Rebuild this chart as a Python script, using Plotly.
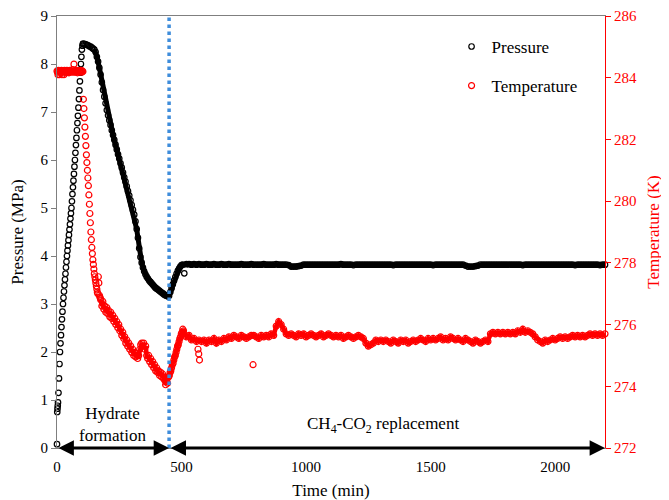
import plotly.graph_objects as go

# ---------------- data ----------------
# Pressure (MPa)
p_time_a = [0, 1, 2, 3] + list(range(4, 105, 2))
p_val_a = [0.08, 0.75, 0.82, 0.88,
           0.95, 1.15, 1.45, 1.75, 2.0, 2.18, 2.35, 2.52, 2.68, 2.84,
           3.0, 3.13, 3.26, 3.39, 3.51, 3.63, 3.76, 3.88, 4.0, 4.11,
           4.22, 4.33, 4.44, 4.55, 4.66, 4.78, 4.89, 5.0, 5.14, 5.29,
           5.43, 5.57, 5.71, 5.86, 6.0, 6.15, 6.31, 6.46, 6.62, 6.77,
           6.92, 7.09, 7.27, 7.45, 7.64, 7.82, 8.0, 8.15, 8.3, 8.38,
           8.42]
p_time_b = list(range(105, 506, 5))
p_val_b = [8.42, 8.42, 8.41, 8.40, 8.39, 8.37, 8.36, 8.34, 8.32, 8.30,
           8.25, 8.15, 8.05, 7.92, 7.78, 7.62, 7.46, 7.32, 7.18, 7.04,
           6.93, 6.83, 6.73, 6.62, 6.52, 6.42, 6.32, 6.22, 6.12, 6.03,
           5.93, 5.84, 5.74, 5.64, 5.55, 5.45, 5.35, 5.26, 5.16, 5.06,
           4.96, 4.86, 4.72, 4.56, 4.38, 4.16, 3.98, 3.86, 3.76, 3.68,
           3.62, 3.57, 3.53, 3.49, 3.46, 3.43, 3.40, 3.37, 3.34, 3.32,
           3.30, 3.28, 3.26, 3.24, 3.22, 3.20, 3.18, 3.17, 3.16, 3.17,
           3.25, 3.33, 3.41, 3.49, 3.56, 3.63, 3.69, 3.74, 3.78, 3.81,
           3.82]
p_time_c = list(range(520, 2201, 10))
p_val_c = [3.83, 3.83, 3.82, 3.83, 3.82, 3.83, 3.82, 3.82, 3.83, 3.82,
           3.82, 3.83, 3.82, 3.82, 3.83, 3.82, 3.82, 3.83, 3.82, 3.82,
           3.82, 3.82, 3.83, 3.82, 3.82, 3.82, 3.83, 3.82, 3.82, 3.82,
           3.82, 3.83, 3.82, 3.82, 3.82, 3.82, 3.83, 3.82, 3.82, 3.82,
           3.82, 3.81, 3.78, 3.78, 3.78, 3.79, 3.80, 3.82, 3.82, 3.82,
           3.82, 3.82, 3.82, 3.82, 3.82, 3.82, 3.82, 3.82, 3.82, 3.82,
           3.82, 3.82, 3.83, 3.82, 3.82, 3.82, 3.82, 3.81, 3.82, 3.82,
           3.82, 3.82, 3.82, 3.82, 3.82, 3.82, 3.82, 3.82, 3.82, 3.82,
           3.82, 3.82, 3.82, 3.81, 3.82, 3.82, 3.82, 3.82, 3.82, 3.82,
           3.82, 3.82, 3.82, 3.82, 3.82, 3.82, 3.82, 3.82, 3.82, 3.81,
           3.82, 3.82, 3.82, 3.82, 3.82, 3.82, 3.82, 3.82, 3.82, 3.82,
           3.82, 3.82, 3.80, 3.78, 3.78, 3.78, 3.79, 3.80, 3.82, 3.82,
           3.82, 3.82, 3.82, 3.82, 3.82, 3.82, 3.82, 3.82, 3.82, 3.82,
           3.82, 3.82, 3.82, 3.82, 3.82, 3.81, 3.82, 3.82, 3.82, 3.82,
           3.82, 3.82, 3.82, 3.82, 3.82, 3.82, 3.82, 3.82, 3.82, 3.82,
           3.82, 3.82, 3.82, 3.82, 3.82, 3.82, 3.81, 3.82, 3.82, 3.82,
           3.82, 3.82, 3.82, 3.82, 3.82, 3.82, 3.81, 3.82, 3.82]
p_out_time = [511]
p_out_val = [3.64]

# Temperature (K)
t_time_a = list(range(0, 105, 2))
t_val_a = [284.22, 284.18, 284.10, 284.24, 284.20, 284.10, 284.22, 284.20, 284.16, 284.24,
           284.10, 284.22, 284.20, 284.18, 284.10, 284.24, 284.20, 284.22, 284.16, 284.20,
           284.24, 284.18, 284.20, 284.22, 284.16, 284.20, 284.24, 284.20, 284.18, 284.22,
           284.20, 284.26, 284.20, 284.18, 284.44, 284.22, 284.20, 284.18, 284.24, 284.20,
           284.22, 284.16, 284.20, 284.24, 284.20, 284.18, 284.22, 284.20, 284.24, 284.20,
           284.18, 284.22, 284.20]
t_time_b = list(range(106, 175, 2))
t_val_b = [283.3, 283.0, 282.7, 282.4, 282.1, 281.8, 281.5, 281.25, 281.0, 280.75,
           280.5, 280.2, 279.9, 279.6, 279.3, 279.0, 278.75, 278.5, 278.3, 278.1,
           277.95, 277.8, 277.65, 277.55, 277.45, 277.35, 277.25, 277.15, 277.05, 277.0,
           277.55, 277.35, 276.95, 276.9, 276.85]
t_time_c = list(range(176, 449, 4))
t_val_c = [276.8, 276.6, 276.75, 276.5, 276.6, 276.4, 276.55, 276.35, 276.45, 276.25,
           276.4, 276.2, 276.3, 276.1, 276.2, 276.0, 276.1, 275.9, 276.0, 275.8,
           275.85, 275.65, 275.75, 275.55, 275.6, 275.4, 275.5, 275.3, 275.4, 275.2,
           275.3, 275.1, 275.2, 275.0, 275.1, 274.95, 275.05, 274.9, 275.0, 275.2,
           275.35, 275.4, 275.3, 275.4, 275.2, 275.3, 275.0, 274.9, 275.0, 274.8,
           274.9, 274.7, 274.8, 274.6, 274.7, 274.5, 274.6, 274.45, 274.5, 274.35,
           274.45, 274.3, 274.4, 274.25, 274.2, 274.05, 274.25, 274.1, 274.3]
t_time_d = list(range(451, 509, 3))
t_val_d = [274.35, 274.45, 274.5, 274.6, 274.7, 274.75, 274.85, 274.95, 275.0, 275.1,
           275.2, 275.3, 275.35, 275.45, 275.55, 275.6, 275.7, 275.75, 275.85, 275.8]
t_time_e = list(range(520, 2201, 10))
t_val_e = [275.6, 275.65, 275.5, 275.55, 275.45, 275.5, 275.45, 275.5, 275.4, 275.5,
           275.45, 275.55, 275.4, 275.5, 275.45, 275.55, 275.5, 275.6, 275.55, 275.65,
           275.6, 275.55, 275.65, 275.6, 275.55, 275.6, 275.65, 275.65, 275.6, 275.55,
           275.65, 275.6, 275.65, 275.6, 275.7, 275.65, 275.95, 276.1, 276.0, 275.85,
           275.7, 275.65, 275.7, 275.65, 275.6, 275.7, 275.65, 275.7, 275.6, 275.65,
           275.7, 275.65, 275.6, 275.65, 275.7, 275.6, 275.65, 275.7, 275.65, 275.6,
           275.65, 275.6, 275.65, 275.55, 275.6, 275.65, 275.6, 275.55, 275.6, 275.65,
           275.6, 275.55, 275.4, 275.3, 275.35, 275.4, 275.5, 275.45, 275.5, 275.45,
           275.5, 275.45, 275.4, 275.5, 275.45, 275.4, 275.5, 275.45, 275.5, 275.4,
           275.45, 275.5, 275.45, 275.5, 275.55, 275.5, 275.45, 275.55, 275.5, 275.55,
           275.5, 275.55, 275.6, 275.5, 275.55, 275.5, 275.6, 275.55, 275.5, 275.55,
           275.5, 275.45, 275.55, 275.5, 275.45, 275.4, 275.5, 275.45, 275.4, 275.45,
           275.5, 275.45, 275.7, 275.75, 275.7, 275.75, 275.7, 275.75, 275.7, 275.75,
           275.7, 275.75, 275.7, 275.8, 275.75, 275.85, 275.75, 275.8, 275.75, 275.7,
           275.6, 275.5, 275.45, 275.4, 275.5, 275.45, 275.5, 275.55, 275.5, 275.55,
           275.6, 275.55, 275.6, 275.55, 275.6, 275.65, 275.6, 275.65, 275.6, 275.65,
           275.6, 275.65, 275.7, 275.65, 275.7, 275.65, 275.7, 275.65, 275.7]
t_out_time = [566, 569, 572, 787]
t_out_val = [275.2, 275.05, 274.85, 274.7]

switch_time = 450
x_ticks = [0, 500, 1000, 1500, 2000]
phase_labels = ["Hydrate<br>formation", "CH<sub>4</sub>-CO<sub>2</sub> replacement"]

FONT = "Liberation Serif"
BLACK = "#000000"
RED = "#FF0000"

pressure_time = p_time_a + p_time_b + p_time_c + p_out_time
pressure_val = p_val_a + p_val_b + p_val_c + p_out_val
temp_time = t_time_a + t_time_b + t_time_c + t_time_d + t_time_e + t_out_time
temp_val = t_val_a + t_val_b + t_val_c + t_val_d + t_val_e + t_out_val

fig = go.Figure()
# dense logging stretches read as a continuous band of overlapping markers
fig.add_trace(go.Scatter(
    x=p_time_b[9:] + p_time_c, y=p_val_b[9:] + p_val_c, mode="lines", showlegend=False,
    hoverinfo="skip", line=dict(color=BLACK, width=5)))
fig.add_trace(go.Scatter(
    x=t_time_c + t_time_d + t_time_e, y=t_val_c + t_val_d + t_val_e, mode="lines",
    yaxis="y2", showlegend=False, hoverinfo="skip", line=dict(color=RED, width=4.5)))

fig.add_trace(go.Scatter(
    x=pressure_time, y=pressure_val, mode="markers", name="Pressure",
    legendgroup="p", cliponaxis=False,
    marker=dict(symbol="circle-open", size=5.5, color=BLACK, line=dict(width=1.2)),
))
fig.add_trace(go.Scatter(
    x=temp_time, y=temp_val, mode="markers", name="Temperature", yaxis="y2",
    legendgroup="t", cliponaxis=False,
    marker=dict(symbol="circle-open", size=6, color=RED, line=dict(width=1.2)),
))

fig.add_shape(type="line", x0=switch_time, x1=switch_time, y0=0, y1=9,
              xref="x", yref="y", line=dict(color="#3F8DDB", width=3.5, dash="dot"))

# phase arrows
for x0, x1 in [(0, switch_time), (switch_time, 2200)]:
    fig.add_annotation(x=x1, y=0, ax=x0, ay=0, xref="x", yref="y", axref="x", ayref="y",
                       text="", showarrow=True, arrowhead=2, arrowside="end+start",
                       arrowsize=1.1, arrowwidth=2.8, arrowcolor=BLACK,
                       standoff=0, startstandoff=0)

fig.add_annotation(x=225, y=0.5, xref="x", yref="y", text=phase_labels[0], showarrow=False,
                   font=dict(family=FONT, size=17, color=BLACK))
fig.add_annotation(x=1310, y=0.48, xref="x", yref="y", text=phase_labels[1], showarrow=False,
                   font=dict(family=FONT, size=17, color=BLACK))

# the page body adds an 8 px offset, so the figure is 8 px smaller each way
fig.update_layout(
    width=661, height=492,
    margin=dict(l=49, r=64, t=8, b=52),
    paper_bgcolor="white", plot_bgcolor="white",
    font=dict(family=FONT, size=15, color=BLACK),
    showlegend=True,
    legend=dict(x=0.72, y=0.97, xanchor="left", yanchor="top", bgcolor="rgba(0,0,0,0)",
                font=dict(family=FONT, size=17), tracegroupgap=14, itemwidth=30),
    xaxis=dict(range=[0, 2200], tickvals=x_ticks, showgrid=False, zeroline=False,
               showline=True, linecolor="#7F7F7F", linewidth=1, mirror=True,
               ticks="", ticklabelstandoff=5, automargin=False,
               tickfont=dict(family=FONT, size=15),
               title=dict(text="Time (min)", font=dict(family=FONT, size=17), standoff=14)),
    yaxis=dict(range=[0, 9], dtick=1, showgrid=False, zeroline=False,
               showline=True, linecolor="#7F7F7F", linewidth=1, automargin=False,
               ticks="outside", ticklen=5, tickcolor="#7F7F7F",
               tickfont=dict(family=FONT, size=15),
               title=dict(text="Pressure (MPa)", font=dict(family=FONT, size=17), standoff=12)),
    yaxis2=dict(range=[272, 286], dtick=2, overlaying="y", side="right", showgrid=False,
                zeroline=False, showline=True, linecolor=RED, linewidth=1, automargin=False,
                ticks="outside", ticklen=5, tickcolor=RED,
                tickfont=dict(color=RED, family=FONT, size=15),
                title=dict(text="Temperature (K)", font=dict(family=FONT, size=17, color=RED),
                           standoff=11)),
)

fig.write_html("out.html")
